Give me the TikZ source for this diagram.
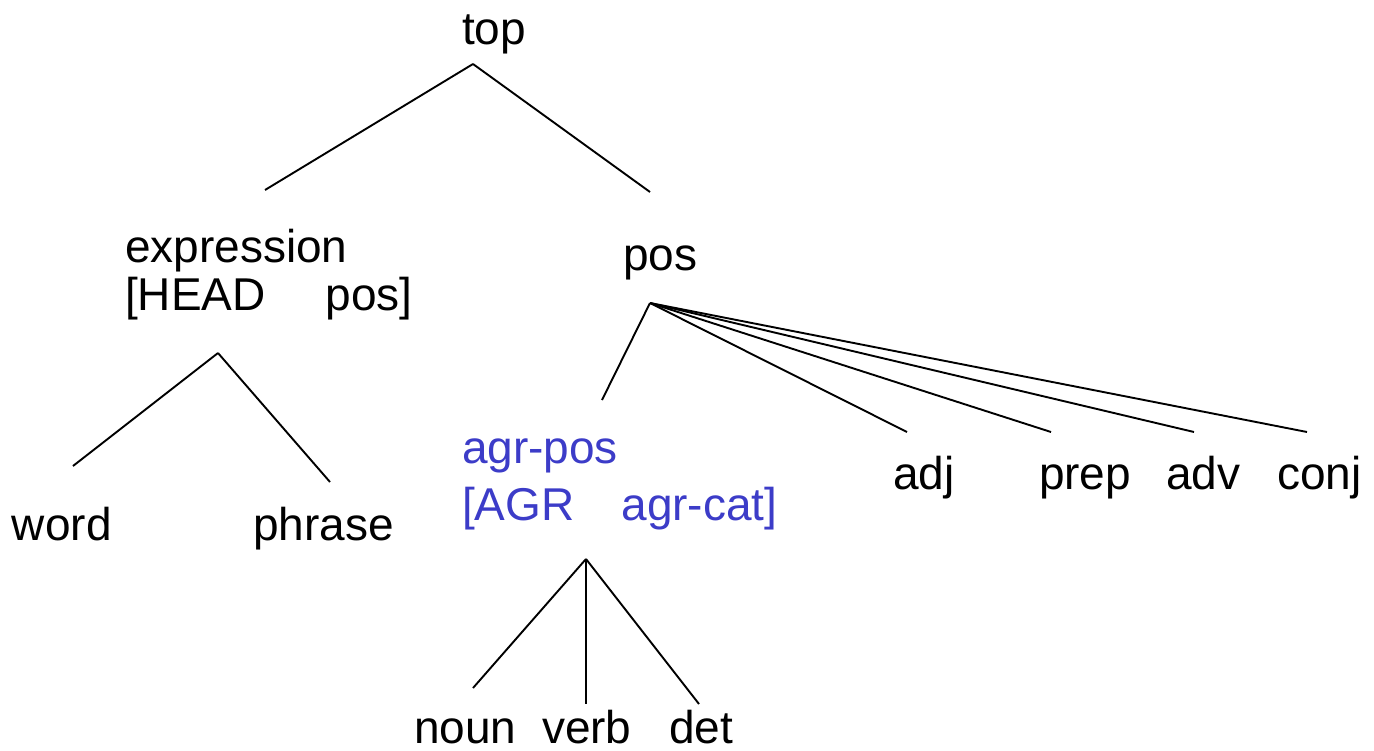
\documentclass[tikz,border=0pt]{standalone}
\usepackage{fontspec}
\setmainfont{Liberation Sans}
\definecolor{agrblue}{RGB}{60,60,200}
\tikzset{
  lbl/.style={anchor=base west, inner sep=0pt, outer sep=0pt, font=\fontsize{46}{55}\selectfont},
  bluelbl/.style={lbl, text=agrblue},
  edge/.style={draw=black, line width=1.9pt}
}
\begin{document}
\begin{tikzpicture}[x=1pt,y=-1pt]
\useasboundingbox (0,0) rectangle (1374,750);
% labels
\node[lbl] (top) at (462,44) {top};
\node[lbl] (expr) at (125,262) {expression};
\node[lbl] (head) at (125,310) {[HEAD\hspace{60pt}pos]};
\node[lbl] (pos) at (623,270) {pos};
\node[lbl] (word) at (12,540) {word};
\node[lbl] (phrase) at (253,540) {phrase};
\node[bluelbl] (agr) at (462,463) {agr-pos};
\node[bluelbl] (agrf) at (462,520) {[AGR\hspace{47pt}agr-cat]};
\node[lbl] (adj) at (893,489) {adj};
\node[lbl] (prep) at (1039,489) {prep};
\node[lbl] (adv) at (1166,489) {adv};
\node[lbl] (conj) at (1277,489) {conj};
\node[lbl] (noun) at (414,743) {noun};
\node[lbl] (verb) at (542,743) {verb};
\node[lbl] (det) at (669,743) {det};
% attachment points
\coordinate (top-b) at (473,64);
\coordinate (expr-t) at (265,190);
\coordinate (pos-t) at (650,192);
\coordinate (expr-b) at (218,353);
\coordinate (word-t) at (73,466);
\coordinate (phrase-t) at (330,482);
\coordinate (pos-b) at (650,303);
\coordinate (agr-t) at (602,400);
\coordinate (adj-t) at (907,432);
\coordinate (prep-t) at (1051,432);
\coordinate (adv-t) at (1194,432);
\coordinate (conj-t) at (1307,432);
\coordinate (agr-b) at (586,559);
\coordinate (noun-t) at (473,688);
\coordinate (verb-t) at (586,704);
\coordinate (det-t) at (699,704);
% edges
\draw[edge] (top-b) -- (expr-t);
\draw[edge] (top-b) -- (pos-t);
\draw[edge] (expr-b) -- (word-t);
\draw[edge] (expr-b) -- (phrase-t);
\draw[edge] (pos-b) -- (agr-t);
\draw[edge] (pos-b) -- (adj-t);
\draw[edge] (pos-b) -- (prep-t);
\draw[edge] (pos-b) -- (adv-t);
\draw[edge] (pos-b) -- (conj-t);
\draw[edge] (agr-b) -- (noun-t);
\draw[edge] (agr-b) -- (verb-t);
\draw[edge] (agr-b) -- (det-t);
\end{tikzpicture}
\end{document}
